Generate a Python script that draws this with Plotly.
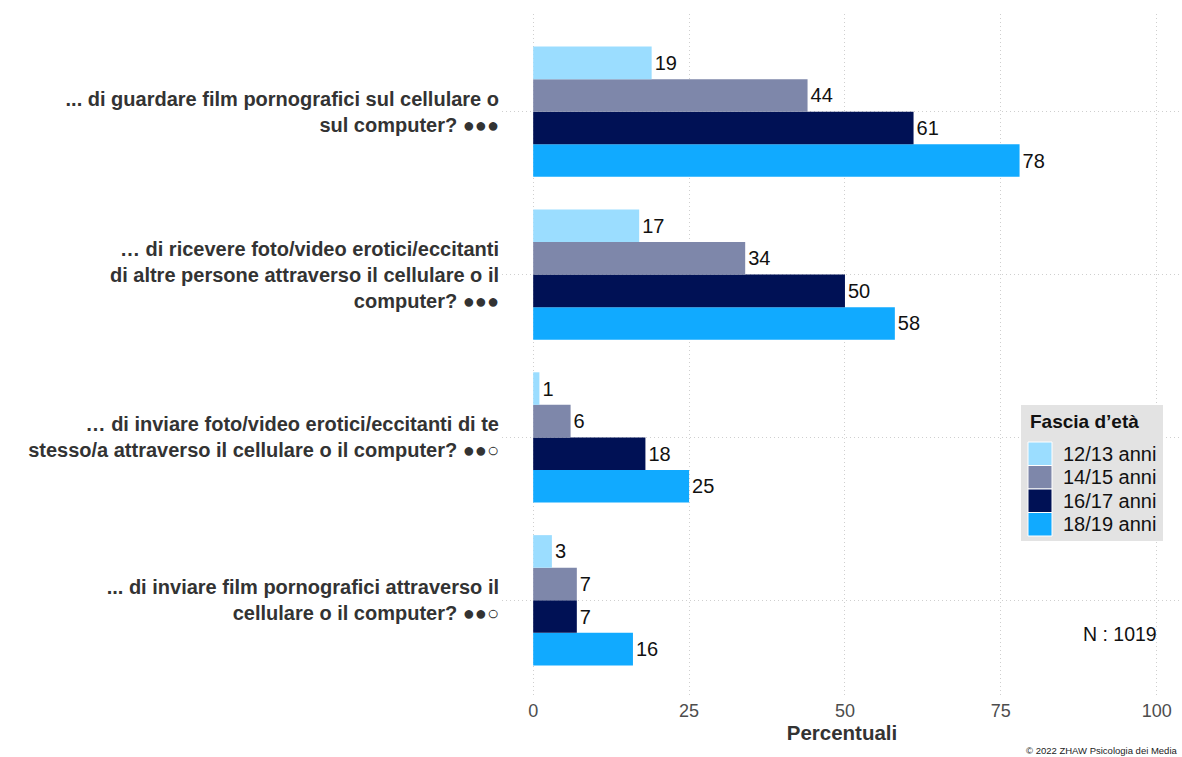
import plotly.graph_objects as go

# Questions (top to bottom) and age groups
categories = [
    "... di guardare film pornografici sul cellulare o<br>sul computer? ●●●",
    "… di ricevere foto/video erotici/eccitanti<br>di altre persone attraverso il cellulare o il<br>computer? ●●●",
    "… di inviare foto/video erotici/eccitanti di te<br>stesso/a attraverso il cellulare o il computer? ●●○",
    "... di inviare film pornografici attraverso il<br>cellulare o il computer? ●●○",
]
age_groups = ["12/13 anni", "14/15 anni", "16/17 anni", "18/19 anni"]

# Percentages per age group, in the order of the categories above
val_12_13 = [19, 17, 1, 3]
val_14_15 = [44, 34, 6, 7]
val_16_17 = [61, 50, 18, 7]
val_18_19 = [78, 58, 25, 16]
series = [val_12_13, val_14_15, val_16_17, val_18_19]

colors = ["#9BDDFF", "#7E87AA", "#001155", "#11AAFF"]

x_ticks = [0, 25, 50, 75, 100]

FONT = "Liberation Sans, Arial, sans-serif"
W, H = 1182, 757
ML, MR, MT, MB = 502, 0, 14, 59
PW, PH = W - ML - MR, H - MT - MB
GRID = dict(showgrid=True, gridcolor="#cfcfcf", griddash="1px,3px", gridwidth=1)


def px(x):
    return (x - ML) / PW


def py(y):
    return (H - MB - y) / PH


fig = go.Figure()
# Plotly draws the first category at the bottom, so reverse the category order
ycats = categories[::-1]
for name, vals, col in zip(age_groups[::-1], series[::-1], colors[::-1]):
    v = vals[::-1]
    fig.add_trace(go.Bar(
        y=ycats, x=v, name=name, orientation="h",
        marker=dict(color=col, line=dict(width=0)),
        text=[str(t) for t in v], textposition="outside",
        textfont=dict(family=FONT, size=20, color="#111111"),
        cliponaxis=False, constraintext="none", showlegend=False,
    ))

fig.update_layout(
    width=W, height=H,
    margin=dict(l=ML, r=MR, t=MT, b=MB),
    paper_bgcolor="white", plot_bgcolor="white",
    barmode="group", bargap=0.2, bargroupgap=0,
    uniformtext=dict(mode=False),
    font=dict(family=FONT, color="#333333"),
)

fig.update_xaxes(
    range=[-5, 104.05], tickvals=x_ticks, ticktext=[str(t) for t in x_ticks],
    zeroline=False, showline=False, ticks="",
    tickfont=dict(size=18, color="#4d4d4d"),
    title=dict(text="<b>Percentuali</b>", font=dict(size=20.5, color="#333333"), standoff=2),
    **GRID,
)
fig.update_yaxes(
    range=[-0.6, 3.6], categoryorder="array", categoryarray=ycats,
    zeroline=False, showline=False, ticks="", ticklabelstandoff=2,
    tickfont=dict(size=20, color="#333333", weight="bold"),
    **GRID,
)

# Legend box drawn by hand
shapes = [dict(type="rect", xref="paper", yref="paper",
               x0=px(1021), x1=px(1163), y0=py(541), y1=py(405),
               fillcolor="#e3e3e3", line=dict(width=0), layer="above")]
annotations = [dict(text="<b>Fascia d’età</b>", xref="paper", yref="paper",
                    x=px(1028), y=py(421), xanchor="left", yanchor="middle",
                    showarrow=False, font=dict(size=19, color="#111111"))]
top = 442
step = 23.5
for i, (name, col) in enumerate(zip(age_groups, colors)):
    y0 = top + i * step
    shapes.append(dict(type="rect", xref="paper", yref="paper",
                       x0=px(1028), x1=px(1052), y0=py(y0 + step), y1=py(y0),
                       fillcolor=col, line=dict(color="white", width=1), layer="above"))
    annotations.append(dict(text=name, xref="paper", yref="paper",
                            x=px(1061), y=py(y0 + step / 2), xanchor="left", yanchor="middle",
                            showarrow=False, font=dict(size=20, color="#111111")))

annotations.append(dict(text="N : 1019", xref="paper", yref="paper",
                        x=px(1159), y=py(634), xanchor="right", yanchor="middle",
                        showarrow=False, font=dict(size=19.5, color="#111111")))
annotations.append(dict(text="© 2022 ZHAW Psicologia dei Media", xref="paper", yref="paper",
                        x=px(1180), y=py(750), xanchor="right", yanchor="middle",
                        showarrow=False, font=dict(size=9.5, color="#222222")))

fig.update_layout(shapes=shapes, annotations=annotations)

fig.write_html("out.html")
